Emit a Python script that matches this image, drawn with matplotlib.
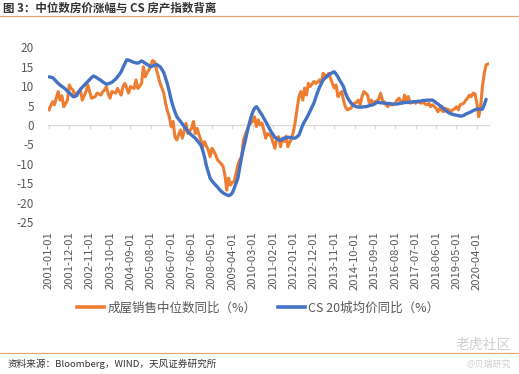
import matplotlib
matplotlib.use("Agg")
import numpy as np
import matplotlib.pyplot as plt
from matplotlib.lines import Line2D

plt.rcParams['font.family'] = ['Noto Sans CJK SC', 'DejaVu Sans']
plt.rcParams['axes.unicode_minus'] = False

# 成屋销售中位数同比（%），2001-01 起按月
median_yoy = [
    3.9, 5.0, 6.0, 5.2, 7.0, 8.6, 6.4, 7.5, 4.7, 5.5, 6.4, 10.3,
    9.4, 9.0, 7.5, 8.2, 8.6, 9.0, 6.4, 7.5, 8.6, 10.3, 8.5, 6.9,
    7.1, 7.3, 8.2, 8.0, 7.7, 8.5, 9.0, 9.9, 8.0, 6.9, 8.6, 8.4,
    8.2, 9.4, 8.5, 7.7, 9.9, 10.7, 9.5, 8.2, 9.9, 9.6, 9.4, 11.6,
    9.4, 10.0, 10.7, 15.0, 12.4, 13.5, 14.2, 15.5, 16.6, 16.3, 14.4, 12.5,
    10.7, 9.5, 8.2, 5.5, 3.5, 2.1, -0.4, 0.9, -3.0, -3.9, -2.5, -1.3,
    -3.4, -1.5, 0.4, -2.2, -1.5, -0.9, 0.9, -2.2, -0.9, -2.5, -3.9, -5.6,
    -4.3, -5.5, -6.4, -8.2, -6.0, -6.8, -7.7, -9.0, -9.5, -10.0, -10.7, -12.9,
    -16.8, -13.7, -15.5, -14.8, -14.6, -12.5, -10.3, -9.0, -8.2, -3.9, -2.5, -1.3,
    0.0, 0.5, 0.9, 2.1, -0.4, 1.3, 0.0, 0.5, -1.3, -3.4, -2.2, -2.5,
    -3.0, -4.5, -6.0, -3.5, -3.0, -5.6, -3.4, -4.3, -2.9, -5.6, -4.5, -3.4,
    -1.7, 0.9, 4.3, 7.3, 8.6, 6.4, 9.5, 7.7, 10.7, 9.9, 10.5, 11.2,
    10.7, 11.0, 11.6, 10.7, 13.3, 12.8, 12.4, 13.3, 12.0, 10.7, 9.5, 10.3,
    7.3, 8.0, 8.6, 6.4, 4.7, 3.9, 4.1, 4.3, 5.2, 5.6, 5.8, 6.4,
    5.2, 7.3, 8.6, 8.2, 7.7, 5.6, 6.4, 5.6, 6.0, 6.2, 6.6, 8.2,
    6.4, 5.8, 5.2, 4.7, 5.6, 5.2, 5.2, 5.6, 6.4, 6.9, 6.0, 5.6,
    7.7, 6.4, 7.3, 5.6, 5.8, 6.0, 5.6, 6.0, 5.8, 5.6, 6.0, 5.4,
    5.2, 5.6, 4.7, 5.2, 4.8, 4.3, 3.4, 4.3, 3.8, 3.4, 4.3, 4.0,
    3.9, 3.4, 3.9, 4.2, 4.7, 3.9, 5.2, 5.4, 5.6, 6.4, 6.9, 7.7,
    7.3, 8.2, 8.0, 5.6, 2.1, 4.5, 9.9, 13.3, 15.5, 15.7,
]

# CS 20城均价同比（%），2001-01 起按月
cs20_yoy = [
    12.4, 12.3, 12.2, 11.7, 11.2, 10.7, 10.3, 9.9, 9.6, 9.2, 8.7, 8.3,
    7.8, 7.3, 7.3, 7.6, 8.4, 9.2, 9.7, 10.2, 10.7, 11.2, 11.7, 12.2,
    12.6, 12.4, 12.1, 11.8, 11.5, 11.1, 10.8, 10.5, 10.6, 10.8, 11.0, 11.4,
    11.8, 12.4, 13.0, 13.7, 14.8, 15.8, 16.8, 16.7, 16.5, 16.3, 16.1, 16.0,
    15.9, 16.2, 16.5, 16.2, 15.9, 15.6, 15.3, 15.0, 15.2, 15.4, 15.6, 15.3,
    15.0, 14.3, 13.5, 12.0, 10.5, 8.5, 6.5, 4.8, 3.4, 2.2, 1.5, 0.9,
    0.3, -0.4, -1.0, -1.7, -2.1, -2.6, -3.0, -3.4, -4.0, -4.6, -5.2, -6.5,
    -8.3, -10.5, -12.1, -13.7, -14.4, -15.0, -15.5, -16.0, -16.6, -17.1, -17.5, -17.8,
    -18.0, -18.2, -18.0, -17.5, -16.3, -15.0, -13.7, -11.0, -8.2, -6.0, -4.0, -1.8,
    0.0, 1.9, 3.3, 4.3, 4.7, 4.1, 3.3, 2.6, 1.7, 0.9, 0.0, -0.9,
    -1.8, -2.5, -3.2, -3.5, -3.8, -4.0, -3.7, -3.4, -3.3, -3.2, -3.2, -3.3,
    -3.4, -3.4, -3.0, -2.6, -1.3, 0.0, 0.9, 1.7, 2.6, 3.6, 4.6, 5.6,
    7.0, 8.4, 9.6, 10.6, 11.6, 12.0, 12.5, 12.9, 13.2, 13.5, 13.7, 13.1,
    12.4, 11.5, 10.7, 9.9, 8.3, 7.2, 6.4, 5.7, 5.2, 4.9, 4.7, 4.6,
    4.6, 4.6, 4.7, 4.7, 4.8, 5.0, 5.1, 5.2, 5.5, 5.8, 5.8, 5.7,
    5.7, 5.6, 5.6, 5.5, 5.5, 5.4, 5.4, 5.4, 5.4, 5.5, 5.6, 5.7,
    5.8, 5.8, 5.8, 5.9, 5.9, 6.0, 6.0, 6.1, 6.1, 6.2, 6.3, 6.3,
    6.4, 6.4, 6.4, 6.4, 6.1, 5.7, 5.4, 5.0, 4.7, 4.2, 3.8, 3.4,
    3.1, 2.9, 2.7, 2.6, 2.5, 2.4, 2.3, 2.3, 2.5, 2.8, 3.0, 3.2,
    3.4, 3.7, 3.9, 4.1, 4.1, 4.0, 4.1, 5.2, 6.6,
]

tick_labels = [
    '2001-01-01', '2001-12-01', '2002-11-01', '2003-10-01', '2004-09-01',
    '2005-08-01', '2006-07-01', '2007-06-01', '2008-05-01', '2009-04-01',
    '2010-03-01', '2011-02-01', '2012-01-01', '2012-12-01', '2013-11-01',
    '2014-10-01', '2015-09-01', '2016-08-01', '2017-07-01', '2018-06-01',
    '2019-05-01', '2020-04-01',
]
tick_every = 11
y_ticks = [-25, -20, -15, -10, -5, 0, 5, 10, 15, 20]

name_median = '成屋销售中位数同比（%）'
name_cs20 = 'CS 20城均价同比（%）'

c_orange = '#ED7D31'
c_blue = '#4472C4'
c_text = '#595959'
c_rule = '#E9A56E'

fig = plt.figure(figsize=(5.19, 3.74), dpi=100)
ax = fig.add_axes([0.0925, 0.4064, 0.8495, 0.4671])

ax.plot(np.arange(len(median_yoy)), median_yoy, color=c_orange, lw=2.2,
        solid_joinstyle='round', zorder=3)
ax.plot(np.arange(len(cs20_yoy)), cs20_yoy, color=c_blue, lw=2.4,
        solid_joinstyle='round', solid_capstyle='round', zorder=4)

ax.set_xlim(-0.5, 237.5)
ax.set_ylim(-25, 20)
ax.set_yticks(y_ticks)
for s in ['top', 'right', 'left']:
    ax.spines[s].set_visible(False)
ax.spines['bottom'].set_position(('data', 0))
ax.spines['bottom'].set_color('#D9D9D9')
ax.spines['bottom'].set_linewidth(0.9)

tick_pos = np.arange(len(tick_labels)) * tick_every
ax.set_xticks(tick_pos)
ax.tick_params(axis='x', length=3, width=0.9, color='#D9D9D9', labelbottom=False)
ax.tick_params(axis='y', length=0, labelsize=8.5, labelcolor=c_text, pad=10)

sec = ax.secondary_xaxis('bottom')
sec.set_xticks(tick_pos, labels=tick_labels)
sec.tick_params(length=0, rotation=90, labelsize=8.1, labelcolor=c_text, pad=7)
sec.spines['bottom'].set_visible(False)

handles = [Line2D([], [], color=c_orange, lw=2.6),
           Line2D([], [], color=c_blue, lw=2.6)]
fig.legend(handles, [name_median, name_cs20], loc='center',
           bbox_to_anchor=(258 / 519, 1 - 308 / 374), ncol=2, frameon=False,
           fontsize=9, handlelength=2.2, handletextpad=0.25,
           columnspacing=1.7, labelcolor=c_text)

# 标题与分隔线
fig.text(0.006, 1 - 8 / 374, '图 3：中位数房价涨幅与 CS 房产指数背离',
         fontsize=8.3, fontweight='bold', color='#333333', va='center')
fig.add_artist(Line2D([0, 1], [1 - 15.5 / 374] * 2, color=c_rule, lw=0.9))
fig.add_artist(Line2D([0, 1], [1 - 352.7 / 374] * 2, color=c_rule, lw=0.9))

fig.text(0.015, 1 - 364 / 374, '资料来源：Bloomberg，WIND，天风证券研究所',
         fontsize=6.9, color='#333333', va='center')
fig.text(0.985, 1 - 345 / 374, '老虎社区', fontsize=10, color='#CFCFCF',
         ha='right', va='center')
fig.text(0.985, 1 - 364 / 374, '@贝瑞研究', fontsize=6.5, color='#CFCFCF',
         ha='right', va='center')

fig.savefig('out.png', dpi=100)
